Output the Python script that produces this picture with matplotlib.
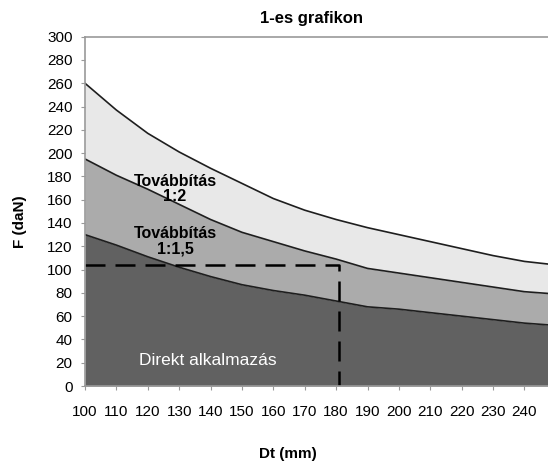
import matplotlib
matplotlib.use("Agg")
import matplotlib.pyplot as plt

plt.rcParams['font.family'] = ['Liberation Sans', 'DejaVu Sans']

# Dt (mm) and the three force limits (daN)
dt = [100, 110, 120, 130, 140, 150, 160, 170, 180, 190, 200, 210, 220, 230, 240, 250]
f_ratio_2 = [260, 237, 217, 201, 187, 174, 161, 151, 143, 136, 130, 124, 118, 112, 107, 104]
f_ratio_15 = [195, 181, 169, 156, 143, 132, 124, 116, 109, 101, 97, 93, 89, 85, 81, 79]
f_direct = [130, 121, 111, 102, 94, 87, 82, 78, 73, 68, 66, 63, 60, 57, 54, 52]

# example reading (dashed guide)
guide_dt = 181
guide_f = 104

x_ticks = list(range(100, 250, 10))
y_ticks = list(range(0, 320, 20))

fig = plt.figure(figsize=(5.48, 4.63), dpi=100)
ax = fig.add_axes([85 / 548, 1 - 386 / 463, 1 - 85 / 548, (386 - 36.7) / 463])

ax.fill_between(dt, 0, f_direct, color="#616161", lw=0)
ax.fill_between(dt, f_direct, f_ratio_15, color="#ababab", lw=0)
ax.fill_between(dt, f_ratio_15, f_ratio_2, color="#e8e8e8", lw=0)
for ys in (f_direct, f_ratio_15, f_ratio_2):
    ax.plot(dt, ys, color="#1e1e1e", lw=1.2)

ax.plot([100, guide_dt, guide_dt], [guide_f, guide_f, 0], color="black",
        lw=1.8, dashes=(8, 4))

ax.set_xlim(100, 247.5)
ax.set_ylim(0, 300)
ax.set_xticks(x_ticks)
ax.set_yticks(y_ticks)
ax.tick_params(axis="both", length=3, color="#999999", labelsize=11)
ax.tick_params(axis="x", pad=11)
ax.tick_params(axis="y", pad=6)
for side in ("left", "top", "bottom"):
    ax.spines[side].set_color("#999999")
    ax.spines[side].set_linewidth(1.2)
ax.spines["right"].set_visible(False)

ax.text(128.7, 169, "Továbbítás\n1:2", ha="center", va="center",
        fontsize=11.5, fontweight="bold", linespacing=1.0)
ax.text(128.9, 124.5, "Továbbítás\n1:1,5", ha="center", va="center",
        fontsize=11.5, fontweight="bold", linespacing=1.0)
ax.text(139.2, 22.3, "Direkt alkalmazás", ha="center", va="center",
        fontsize=12.5, color="white")

fig.text(311 / 548, 1 - 18 / 463, "1-es grafikon", ha="center", va="center",
         fontsize=12, fontweight="bold")
fig.text(288 / 548, 1 - 454 / 463, "Dt (mm)", ha="center", va="center",
         fontsize=11, fontweight="bold")
fig.text(20 / 548, 1 - 222 / 463, "F (daN)", ha="center", va="center",
         fontsize=11, fontweight="bold", rotation=90)

fig.savefig("out.png", dpi=100)
